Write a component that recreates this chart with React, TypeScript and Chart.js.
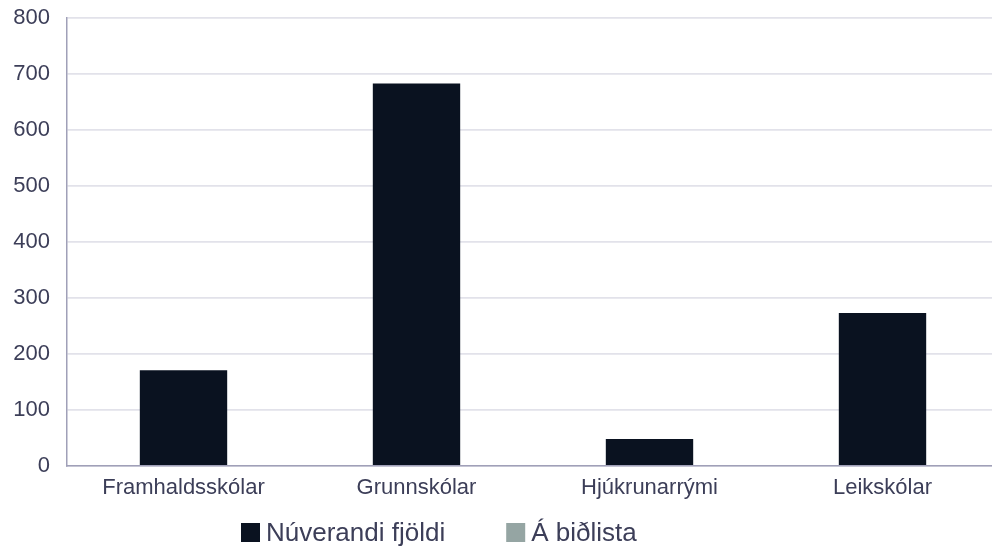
import React, { useEffect, useRef } from "react";
import { Chart, registerables } from "chart.js";

Chart.register(...registerables);

const categories = ["Framhaldsskólar", "Grunnskólar", "Hjúkrunarrými", "Leikskólar"];
const nuverandi = [171, 683, 48, 273];
const bidlista = [0, 0, 0, 0];
const yTicks = [0, 100, 200, 300, 400, 500, 600, 700, 800];

const FONT = "'Liberation Sans', Arial, sans-serif";
const TEXT_COLOR = "#3c3e58";
const CANVAS_W = 999;
const CANVAS_H = 550;

const customLegend = {
  id: "customLegend",
  afterDraw(chart: any) {
    const ctx = chart.ctx;
    const box = 19;
    const gapText = 6;
    const gapItem = 61;
    const fontSize = 26;
    ctx.save();
    ctx.font = `${fontSize}px ${FONT}`;
    ctx.textBaseline = "middle";
    ctx.textAlign = "left";
    let x = 241;
    const cy = chart.height - 17.5;
    chart.data.datasets.forEach((ds: any) => {
      ctx.fillStyle = ds.backgroundColor;
      ctx.fillRect(x, cy - box / 2, box, box);
      x += box + gapText;
      ctx.fillStyle = TEXT_COLOR;
      ctx.fillText(ds.label, x, cy + 1);
      x += ctx.measureText(ds.label).width + gapItem;
    });
    ctx.restore();
  },
};

export default function App() {
  const ref = useRef<HTMLCanvasElement | null>(null);
  useEffect(() => {
    if (!ref.current) return;
    const chart = new Chart(ref.current, {
      type: "bar",
      data: {
        labels: categories,
        datasets: [
          {
            label: "Núverandi fjöldi",
            data: nuverandi,
            backgroundColor: "#0a1220",
            borderWidth: 0,
            barPercentage: 0.375,
            categoryPercentage: 1,
          },
          {
            label: "Á biðlista",
            data: bidlista,
            backgroundColor: "#95a5a3",
            borderWidth: 0,
            barPercentage: 0.375,
            categoryPercentage: 1,
          },
        ],
      },
      options: {
        animation: false,
        responsive: false,
        maintainAspectRatio: false,
        layout: { padding: { left: 0, right: 0, top: 18, bottom: 48 } },
        plugins: {
          tooltip: { enabled: false },
          legend: { display: false },
        },
        scales: {
          x: {
            stacked: true,
            grid: { display: false, drawTicks: false },
            border: { display: true, color: "#a0a0b8", width: 1.5 },
            ticks: {
              color: TEXT_COLOR,
              padding: 9,
              maxRotation: 0,
              font: { family: FONT, size: 22 },
            },
            afterFit: (scale: any) => {
              scale.height = 36;
              scale.paddingLeft = 0;
              scale.paddingRight = 0;
            },
          },
          y: {
            stacked: true,
            min: 0,
            max: 800,
            afterBuildTicks: (axis: any) => {
              axis.ticks = yTicks.map((v) => ({ value: v }));
            },
            grid: { color: "#e2e2ea", lineWidth: 1.8, drawTicks: false },
            border: { display: true, color: "#a0a0b8", width: 1.5 },
            ticks: {
              color: TEXT_COLOR,
              padding: 17,
              font: { family: FONT, size: 22 },
            },
            afterFit: (scale: any) => {
              scale.width = 67;
              scale.paddingTop = 0;
              scale.paddingBottom = 0;
            },
          },
        },
      },
      plugins: [customLegend],
    });
    return () => chart.destroy();
  }, []);
  return (
    <div
      style={{
        position: "fixed",
        left: 0,
        top: 0,
        width: 992,
        height: 550,
        overflow: "hidden",
        background: "#fff",
      }}
    >
      <canvas
        ref={ref}
        width={CANVAS_W}
        height={CANVAS_H}
        style={{ display: "block", width: CANVAS_W, height: CANVAS_H }}
      />
    </div>
  );
}
